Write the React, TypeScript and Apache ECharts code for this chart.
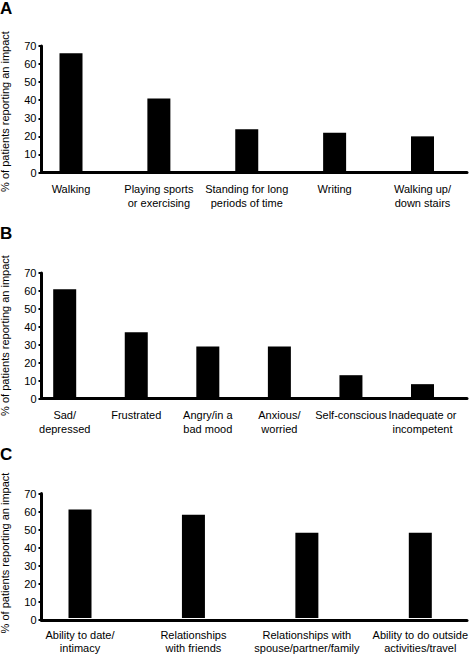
import React, { useEffect, useRef } from "react";
import * as echarts from "echarts";

// ---- data ----
const panelLetters = ["A", "B", "C"];

const activityCategories = [
  "Walking",
  "Playing sports\nor exercising",
  "Standing for long\nperiods of time",
  "Writing",
  "Walking up/\ndown stairs",
];
const activityValues = [66, 41, 24, 22, 20];

const emotionCategories = [
  "Sad/\ndepressed",
  "Frustrated",
  "Angry/in a\nbad mood",
  "Anxious/\nworried",
  "Self-conscious",
  "Inadequate or\nincompetent",
];
const emotionValues = [61, 37, 29, 29, 13, 8];

const relationCategories = [
  "Ability to date/\nintimacy",
  "Relationships\nwith friends",
  "Relationships with\nspouse/partner/family",
  "Ability to do outside\nactivities/travel",
];
const relationValues = [61, 58, 48, 48];

const yAxisTitle = "% of patients reporting an impact";
const yMin = 0;
const yMax = 70;
const yStep = 10;

// ---- layout (pixels) ----
const FONT = "'Liberation Sans', Arial, Helvetica, sans-serif";
const panels = [
  { letter: panelLetters[0], cats: activityCategories, vals: activityValues, top: 46, height: 126.5, barLeft: 71, letterTop: 0, titleY: 111.5 },
  { letter: panelLetters[1], cats: emotionCategories, vals: emotionValues, top: 273, height: 125.5, barLeft: 64.7, letterTop: 225, titleY: 335.5 },
  { letter: panelLetters[2], cats: relationCategories, vals: relationValues, top: 493.5, height: 126.5, barLeft: 80, letterTop: 446, titleY: 553 },
];
const AXIS_LEFT = 41.5;
const AXIS_RIGHT = 4;
const BAR_RIGHT = 48.5;
const TITLE_X = 5;

export default function App() {
  const ref = useRef<HTMLDivElement>(null);

  useEffect(() => {
    if (!ref.current) return;
    const chart = echarts.init(ref.current, undefined, { renderer: "svg" });

    const grid: any[] = [];
    const xAxis: any[] = [];
    const yAxis: any[] = [];
    const series: any[] = [];
    const title: any[] = [];
    const graphic: any[] = [];

    panels.forEach((p, i) => {
      const ga = i * 2;
      const gb = i * 2 + 1;
      grid.push({ left: AXIS_LEFT, right: AXIS_RIGHT, top: p.top, height: p.height });
      grid.push({ left: p.barLeft, right: BAR_RIGHT, top: p.top, height: p.height });

      xAxis.push({
        type: "value",
        gridIndex: ga,
        min: 0,
        max: 1,
        axisLine: { show: true, lineStyle: { color: "#000", width: 3 } },
        axisTick: { show: false },
        axisLabel: { show: false },
        splitLine: { show: false },
      });
      yAxis.push({
        type: "value",
        gridIndex: ga,
        min: yMin,
        max: yMax,
        interval: yStep,
        axisLine: { show: true, lineStyle: { color: "#000", width: 3 } },
        axisTick: { show: true, length: 3, lineStyle: { color: "#000", width: 2 } },
        axisLabel: { color: "#000", fontSize: 11, fontFamily: FONT, margin: 5 },
        splitLine: { show: false },
      });

      xAxis.push({
        type: "category",
        gridIndex: gb,
        data: p.cats,
        boundaryGap: false,
        axisLine: { show: false },
        axisTick: { show: false },
        axisLabel: {
          interval: 0,
          color: "#000",
          fontSize: 11,
          fontFamily: FONT,
          margin: 10,
          lineHeight: 13.5,
        },
        splitLine: { show: false },
      });
      yAxis.push({ type: "value", gridIndex: gb, min: yMin, max: yMax, show: false });

      series.push({
        type: "bar",
        xAxisIndex: gb,
        yAxisIndex: gb,
        data: p.vals,
        barWidth: 23,
        clip: false,
        itemStyle: { color: "#000" },
      });

      title.push({
        text: p.letter,
        left: 0,
        top: p.letterTop,
        padding: 0,
        textStyle: { color: "#000", fontSize: 17, fontWeight: "bold", fontFamily: FONT },
      });

      graphic.push({
        type: "text",
        x: TITLE_X,
        y: p.titleY,
        rotation: Math.PI / 2,
        style: {
          text: yAxisTitle,
          fill: "#000",
          font: `11px ${FONT}`,
          textAlign: "center",
          textVerticalAlign: "middle",
        },
      });
    });

    chart.setOption({
      animation: false,
      backgroundColor: "#fff",
      title,
      grid,
      xAxis,
      yAxis,
      series,
      graphic,
    });

    return () => chart.dispose();
  }, []);

  return (
    <div
      ref={ref}
      style={{ position: "absolute", left: 0, top: 0, width: 471, height: 655, background: "#fff" }}
    />
  );
}
